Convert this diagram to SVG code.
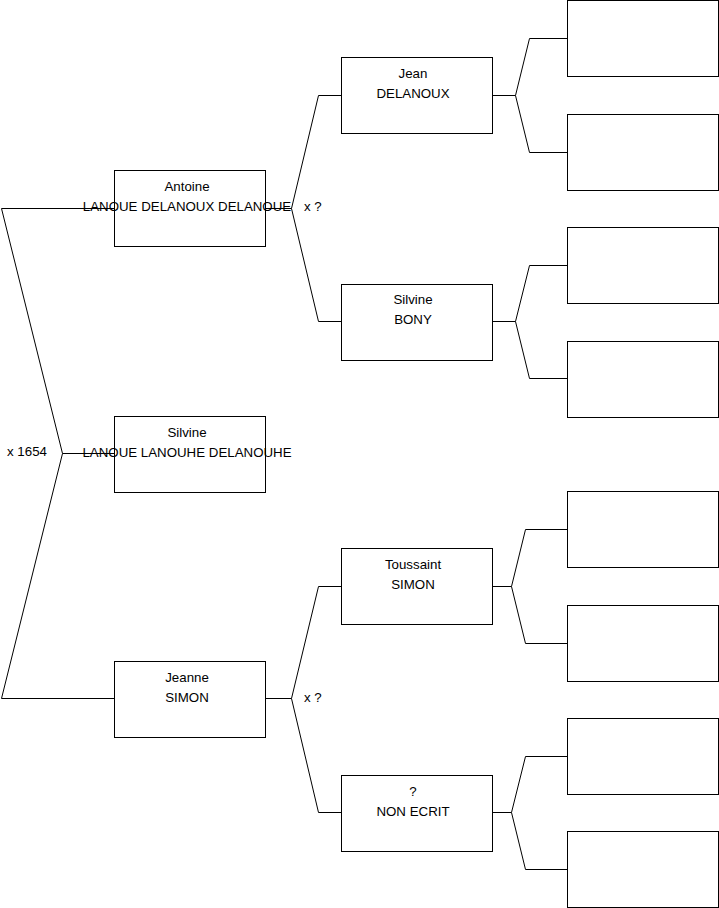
<svg xmlns="http://www.w3.org/2000/svg" width="719" height="908" viewBox="0 0 719 908">
<style>
.box{fill:#fff;stroke:#000;stroke-width:1}
.ln{fill:none;stroke:#000;stroke-width:1}
text{font-family:"Liberation Sans",Arial,sans-serif;font-size:13.3px;fill:#000}
.c{text-anchor:middle}
</style>
<rect width="719" height="908" fill="#fff"/>
<g id="connectors">
<polyline class="ln" points="114.5,208.5 1.5,208.5 62.5,453.5 1.5,698.5 114.5,698.5"/>
<line class="ln" x1="62.5" y1="453.5" x2="114.5" y2="453.5"/>
<polyline class="ln" points="341.5,95.5 318.5,95.5 291.5,208.5 318.5,321.5 341.5,321.5"/>
<line class="ln" x1="265.5" y1="208.5" x2="291.5" y2="208.5"/>
<polyline class="ln" points="341.5,586.5 318.5,586.5 291.5,698.5 318.5,812.5 341.5,812.5"/>
<line class="ln" x1="265.5" y1="698.5" x2="291.5" y2="698.5"/>
<polyline class="ln" points="567.5,38.5 529.5,38.5 515.5,95.5 529.5,152.5 567.5,152.5"/>
<line class="ln" x1="492.5" y1="95.5" x2="515.5" y2="95.5"/>
<polyline class="ln" points="567.5,265.5 529.5,265.5 515.5,321.5 529.5,378.5 567.5,378.5"/>
<line class="ln" x1="492.5" y1="321.5" x2="515.5" y2="321.5"/>
<polyline class="ln" points="567.5,529.5 525.5,529.5 511.5,586.5 525.5,643.5 567.5,643.5"/>
<line class="ln" x1="492.5" y1="586.5" x2="511.5" y2="586.5"/>
<polyline class="ln" points="567.5,756.5 525.5,756.5 511.5,812.5 525.5,869.5 567.5,869.5"/>
<line class="ln" x1="492.5" y1="812.5" x2="511.5" y2="812.5"/>
<text x="7" y="456">x 1654</text>
<text x="304" y="211">x ?</text>
<text x="304" y="702">x ?</text>
</g>
<g id="antoine"><rect class="box" x="114.5" y="170.5" width="151" height="76"/><text class="c" x="187" y="191">Antoine</text><text class="c" x="187" y="211">LANOUE DELANOUX DELANOUE</text></g>
<g id="silvine"><rect class="box" x="114.5" y="416.5" width="151" height="76"/><text class="c" x="187" y="437">Silvine</text><text class="c" x="187" y="457">LANOUE LANOUHE DELANOUHE</text></g>
<g id="jeanne"><rect class="box" x="114.5" y="661.5" width="151" height="76"/><text class="c" x="187" y="682">Jeanne</text><text class="c" x="187" y="702">SIMON</text></g>
<g id="jean"><rect class="box" x="341.5" y="57.5" width="151" height="76"/><text class="c" x="413" y="78">Jean</text><text class="c" x="413" y="98">DELANOUX</text></g>
<g id="silvine-bony"><rect class="box" x="341.5" y="284.5" width="151" height="76"/><text class="c" x="413" y="304">Silvine</text><text class="c" x="413" y="324">BONY</text></g>
<g id="toussaint"><rect class="box" x="341.5" y="548.5" width="151" height="76"/><text class="c" x="413" y="569">Toussaint</text><text class="c" x="413" y="589">SIMON</text></g>
<g id="non-ecrit"><rect class="box" x="341.5" y="775.5" width="151" height="76"/><text class="c" x="413" y="796">?</text><text class="c" x="413" y="816">NON ECRIT</text></g>
<g id="g3-1"><rect class="box" x="567.5" y="0.5" width="151" height="76"/></g>
<g id="g3-2"><rect class="box" x="567.5" y="114.5" width="151" height="76"/></g>
<g id="g3-3"><rect class="box" x="567.5" y="227.5" width="151" height="76"/></g>
<g id="g3-4"><rect class="box" x="567.5" y="341.5" width="151" height="76"/></g>
<g id="g3-5"><rect class="box" x="567.5" y="491.5" width="151" height="76"/></g>
<g id="g3-6"><rect class="box" x="567.5" y="605.5" width="151" height="76"/></g>
<g id="g3-7"><rect class="box" x="567.5" y="718.5" width="151" height="76"/></g>
<g id="g3-8"><rect class="box" x="567.5" y="831.5" width="151" height="76"/></g>
</svg>
